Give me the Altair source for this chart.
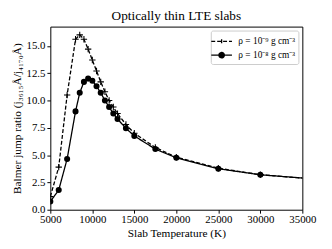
import altair as alt
import pandas as pd

# Data
temps_lo = [5000, 6000, 7000, 8000, 8500, 9000, 9500, 10000, 10500, 11000, 11500,
            12000, 12500, 13000, 14000, 15000, 17500, 20000, 25000, 30000, 40000]
ratio_lo = [1.2, 3.9, 10.5, 15.6, 16.0, 15.6, 14.7, 13.7, 12.7, 11.7, 10.8,
            10.0, 9.4, 8.8, 7.8, 7.0, 5.7, 4.8, 3.8, 3.2, 2.6]
temps_hi = [5000, 6000, 7000, 8000, 8500, 9000, 9500, 10000, 10500, 11000, 11500,
            12000, 12500, 13000, 14000, 15000, 17500, 20000, 25000, 30000, 40000]
ratio_hi = [0.75, 1.8, 4.65, 9.0, 10.7, 11.7, 12.0, 11.8, 11.3, 10.7, 10.0,
            9.4, 8.8, 8.3, 7.45, 6.75, 5.55, 4.75, 3.75, 3.2, 2.6]
series_labels = ["\u03c1 = 10\u207b\u2079 g cm\u207b\u00b3", "\u03c1 = 10\u207b\u2078 g cm\u207b\u00b3"]
x_ticks = [5000, 10000, 15000, 20000, 25000, 30000, 35000]
y_ticks = [0.0, 2.5, 5.0, 7.5, 10.0, 12.5, 15.0]

df_lo = pd.DataFrame({"T": temps_lo, "R": ratio_lo, "s": series_labels[0]})
df_hi = pd.DataFrame({"T": temps_hi, "R": ratio_hi, "s": series_labels[1]})
df = pd.concat([df_lo, df_hi], ignore_index=True)

FONT = "Times New Roman, Liberation Serif, Times, serif"
PLUS = "M-1,0H1M0,-1V1"

x = alt.X("T:Q", scale=alt.Scale(domain=[5000, 35000], nice=False),
          axis=alt.Axis(title="Slab Temperature (K)", values=x_ticks, format="d",
                        grid=False, domain=False, tickColor="black", labelColor="black",
                        tickSize=3.5, labelPadding=1, titlePadding=3,
                        labelFlush=False))
y = alt.Y("R:Q", scale=alt.Scale(domain=[0, 16.76], nice=False),
          axis=alt.Axis(title="Balmer jump ratio (j\u2083\u2086\u2081\u2085\u00c5/j\u2084\u2081\u2087\u2080\u00c5)",
                        values=y_ticks, format=".1f", grid=False, domain=False,
                        tickColor="black", labelColor="black", tickSize=3.5,
                        labelPadding=2, titlePadding=4))

leg = alt.Legend(title=None, orient="top-right", offset=4,
                 symbolSize=210, symbolFillColor="black", symbolStrokeColor="black",
                 symbolStrokeWidth=1.3, symbolOpacity=1,
                 labelFont=FONT, labelFontSize=9.5,
                 labelColor="black", strokeColor="#cccccc", fillColor="white",
                 padding=3, cornerRadius=2, rowPadding=1, labelOffset=9)

LEG_LO = "M-1.45,0H1.45M0,-0.3V0.3"
LEG_HI = ("M-1.45,0H1.45"
          "M0.38,0A0.38,0.38 0 1,1 -0.38,0A0.38,0.38 0 1,1 0.38,0"
          "M0.25,0A0.25,0.25 0 1,1 -0.25,0A0.25,0.25 0 1,1 0.25,0"
          "M0.12,0A0.12,0.12 0 1,1 -0.12,0A0.12,0.12 0 1,1 0.12,0")

lines = alt.Chart(df).mark_line(clip=True, color="black", strokeWidth=1.3).encode(
    x=x, y=y,
    strokeDash=alt.StrokeDash("s:N", scale=alt.Scale(domain=series_labels,
                                                     range=[[4, 2], [1, 0]]), legend=leg),
)

pts_lo = alt.Chart(df_lo).mark_point(clip=True, shape=PLUS, color="black", size=42,
                                     strokeWidth=1.1, filled=False, opacity=1).encode(x=x, y=y)
pts_hi = alt.Chart(df_hi).mark_point(clip=True, shape="circle", color="black", size=38,
                                     filled=True, opacity=1).encode(x=x, y=y)

# legend-only layer: its marks are the clipped points beyond 35000 K
legend_layer = alt.Chart(df).transform_filter("datum.T > 35000").mark_point(
    clip=True, color="black", filled=False, strokeWidth=1.3).encode(
    x=x, y=y,
    shape=alt.Shape("s:N", scale=alt.Scale(domain=series_labels, range=[LEG_LO, LEG_HI]),
                    legend=leg),
)

chart = alt.layer(lines, pts_lo, pts_hi, legend_layer).properties(
    width=256, height=186,
    title=alt.Title("Optically thin LTE slabs", font=FONT, fontSize=13.5,
                    fontWeight="normal", color="black", offset=4),
    autosize=alt.AutoSizeParams(type="none"),
    padding={"left": 43, "top": 17, "right": 22, "bottom": 38},
).configure_view(stroke="black", strokeWidth=1).configure_axis(
    labelFont=FONT, titleFont=FONT, labelFontSize=11, titleFontSize=11.5,
    titleFontWeight="normal", titleColor="black"
)

chart.save("out.html", embed_options={"renderer": "svg", "actions": False})
